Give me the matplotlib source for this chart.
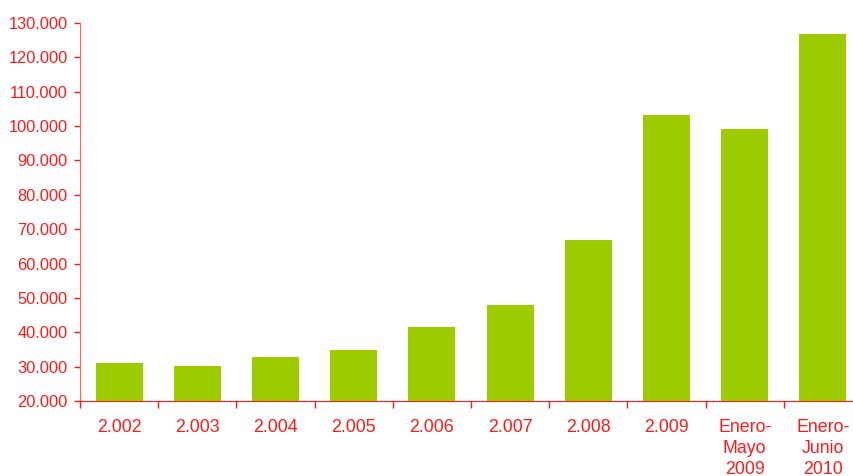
import matplotlib.pyplot as plt
import numpy as np

CATEGORIES = ['2.002', '2.003', '2.004', '2.005', '2.006', '2.007', '2.008',
              '2.009', 'Enero-\nMayo\n2009', 'Enero-\nJunio\n2010']
VALUES = [31000, 30200, 32800, 34800, 41500, 47900, 66800,
          103200, 99200, 126800]
Y_TICKS = list(range(20000, 130001, 10000))
Y_TICK_LABELS = [f'{v // 1000}.000' for v in Y_TICKS]

RED = '#ff1a1a'
BAR_COLOR = '#9ccc00'


def main() -> None:
    plt.rcParams['font.family'] = ['Liberation Sans', 'DejaVu Sans']
    fig = plt.figure(figsize=(8.54, 4.76), dpi=100)
    ax = fig.add_axes([0.0937, 0.1576, 0.9157, 0.7941])

    x = np.arange(len(CATEGORIES))
    ax.bar(x, VALUES, width=0.6, color=BAR_COLOR)

    ax.set_xlim(-0.5, len(CATEGORIES) - 0.5)
    ax.set_ylim(Y_TICKS[0], Y_TICKS[-1])

    ax.set_yticks(Y_TICKS)
    ax.set_yticklabels(Y_TICK_LABELS)
    ax.set_xticks(x)
    ax.set_xticklabels(CATEGORIES, linespacing=1.32, va='top')
    ax.set_xticks(np.arange(-0.5, len(CATEGORIES)), minor=True)

    ax.tick_params(axis='y', colors=RED, labelsize=11.8, length=4,
                   width=1, direction='out', pad=5)
    ax.tick_params(axis='x', which='major', length=0, labelcolor=RED,
                   labelsize=12.8, pad=13)
    ax.tick_params(axis='x', which='minor', length=5, width=1,
                   color=RED, direction='out')

    for side in ('top', 'right'):
        ax.spines[side].set_visible(False)
    ax.spines['left'].set_color('#ff6060')
    ax.spines['bottom'].set_color(RED)

    fig.savefig('out.png', dpi=100)


if __name__ == '__main__':
    main()
